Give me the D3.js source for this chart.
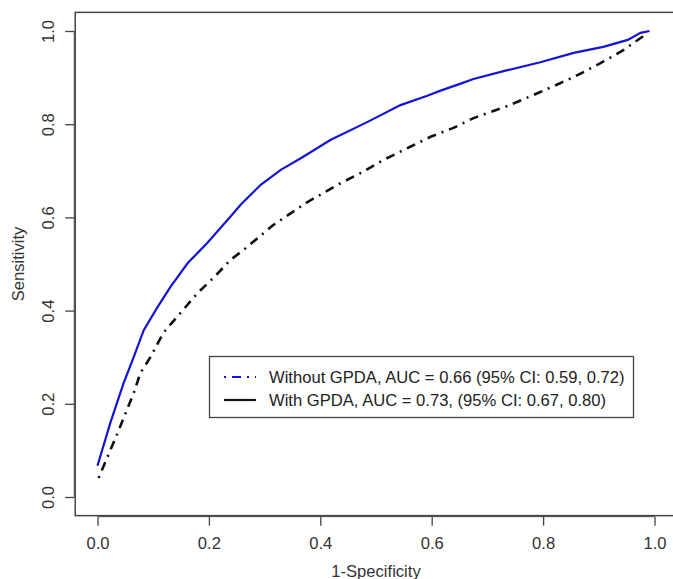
<!doctype html>
<html lang="en">
<head>
    <meta charset="UTF-8">
    <title>ROC curves</title>
    <script type="text/javascript" src="https://cdn.jsdelivr.net/npm/d3@7"></script>
    <style type="text/css">
        body { margin: 0; background: #fff; }
        svg { display: block; font-family: "Liberation Sans", Arial, sans-serif; }
    </style>
</head>
<body>
<script type="text/javascript">
    var width = 673;
    var height = 579;

    // blue solid curve (upper)
    var blue_fpr = [0.0, 0.023, 0.047, 0.065, 0.083, 0.108, 0.131, 0.162, 0.197, 0.233, 0.257, 0.293,
        0.329, 0.365, 0.418, 0.485, 0.544, 0.592, 0.616, 0.652, 0.675, 0.736, 0.795, 0.855, 0.908,
        0.952, 0.975, 0.991];
    var blue_tpr = [0.067, 0.159, 0.245, 0.300, 0.358, 0.408, 0.451, 0.502, 0.545, 0.594, 0.627, 0.670,
        0.702, 0.727, 0.766, 0.805, 0.841, 0.861, 0.872, 0.887, 0.897, 0.916, 0.933, 0.953, 0.966,
        0.981, 0.996, 1.0];

    // black dash-dot curve (lower)
    var black_fpr = [0.002, 0.036, 0.065, 0.077, 0.095, 0.118, 0.149, 0.180, 0.208, 0.239, 0.262, 0.316,
        0.377, 0.431, 0.472, 0.513, 0.557, 0.598, 0.639, 0.675, 0.736, 0.795, 0.855, 0.903, 0.944,
        0.975, 0.988];
    var black_tpr = [0.041, 0.137, 0.223, 0.266, 0.300, 0.352, 0.395, 0.438, 0.470, 0.509, 0.530, 0.584,
        0.633, 0.670, 0.695, 0.723, 0.749, 0.773, 0.792, 0.813, 0.839, 0.869, 0.901, 0.931, 0.959,
        0.985, 0.994];

    var ticks = [0, 0.2, 0.4, 0.6, 0.8, 1.0];
    var legend_labels = ["Without GPDA, AUC = 0.66 (95% CI: 0.59, 0.72)",
        "With GPDA, AUC = 0.73, (95% CI: 0.67, 0.80)"];

    var blue = "#1414d2";
    var axis_col = "#444";
    var fs = "16.6px";

    // R style scales: 4% padding on each side
    var x_scale = d3.scaleLinear().domain([0, 1]).range([97.5, 654.5]);
    var y_scale = d3.scaleLinear().domain([0, 1]).range([497, 31]);

    var svg = d3.select("body").append("svg").attr("width", width).attr("height", height);

    // plot box
    var x0 = x_scale(-0.04), x1 = x_scale(1.04), y0 = y_scale(-0.04), y1 = y_scale(1.04);
    svg.append("rect")
        .attr("x", x0).attr("y", y1)
        .attr("width", x1 - x0).attr("height", y0 - y1)
        .attr("fill", "none").attr("stroke", axis_col).attr("stroke-width", 1.5);

    // x axis
    var x_axis = d3.axisBottom(x_scale).tickValues(ticks).tickSize(9).tickPadding(12)
        .tickFormat(d3.format(".1f"));
    var gx = svg.append("g").attr("transform", "translate(0," + (y0 + 1) + ")").call(x_axis);
    gx.select(".domain").attr("d", "M" + x_scale(0) + ",0H" + x_scale(1)).attr("stroke", axis_col);
    gx.selectAll(".tick line").attr("stroke", axis_col).attr("stroke-width", 1.3);
    gx.selectAll("text").attr("font-size", fs).attr("fill", "#333").attr("font-family", "Liberation Sans");

    // y axis
    var y_axis = d3.axisLeft(y_scale).tickValues(ticks).tickSize(9).tickFormat(d3.format(".1f"));
    var gy = svg.append("g").attr("transform", "translate(" + (x0 - 1) + ",0)").call(y_axis);
    gy.select(".domain").attr("d", "M0," + y_scale(0) + "V" + y_scale(1)).attr("stroke", axis_col);
    gy.selectAll(".tick line").attr("stroke", axis_col).attr("stroke-width", 1.3);
    gy.selectAll("text")
        .attr("font-size", fs).attr("fill", "#333").attr("font-family", "Liberation Sans")
        .attr("x", null).attr("dy", null)
        .attr("text-anchor", "middle")
        .attr("transform", "translate(-25,0) rotate(-90)")
        .attr("dominant-baseline", "middle");

    // axis titles
    svg.append("text")
        .attr("x", (x_scale(0) + x_scale(1)) / 2).attr("y", 577)
        .attr("text-anchor", "middle").attr("font-size", fs).attr("fill", "#333")
        .text("1-Specificity");
    svg.append("text")
        .attr("transform", "translate(24," + ((y_scale(0) + y_scale(1)) / 2) + ") rotate(-90)")
        .attr("text-anchor", "middle").attr("font-size", fs).attr("fill", "#333")
        .text("Sensitivity");

    // curves
    var line = d3.line()
        .x(function (d) { return x_scale(d[0]); })
        .y(function (d) { return y_scale(d[1]); });

    var black_pts = black_fpr.map(function (d, i) { return [d, black_tpr[i]]; });
    var blue_pts = blue_fpr.map(function (d, i) { return [d, blue_tpr[i]]; });

    svg.append("path").datum(black_pts)
        .attr("d", line).attr("fill", "none")
        .attr("stroke", "#111").attr("stroke-width", 2.6)
        .attr("stroke-dasharray", "2,6,9,6");
    svg.append("path").datum(blue_pts)
        .attr("d", line).attr("fill", "none")
        .attr("stroke", blue).attr("stroke-width", 2.2);

    // legend
    var lg = svg.append("g");
    lg.append("rect")
        .attr("x", 209.5).attr("y", 356.5).attr("width", 424).attr("height", 61)
        .attr("fill", "#fff").attr("stroke", axis_col).attr("stroke-width", 1.3);
    var rows = lg.selectAll("g.row").data(legend_labels).enter().append("g")
        .attr("transform", function (d, i) { return "translate(0," + (377 + i * 23) + ")"; });
    rows.append("line")
        .attr("x1", 224).attr("x2", 256).attr("y1", 0).attr("y2", 0)
        .attr("stroke", function (d, i) { return i === 0 ? blue : "#111"; })
        .attr("stroke-width", 2.2)
        .attr("stroke-dasharray", function (d, i) { return i === 0 ? "2,6,9,6" : null; });
    rows.append("text")
        .attr("x", 269).attr("y", 0).attr("dy", "0.35em")
        .attr("font-size", fs).attr("fill", "#222")
        .text(function (d) { return d; });
</script>
</body>
</html>
